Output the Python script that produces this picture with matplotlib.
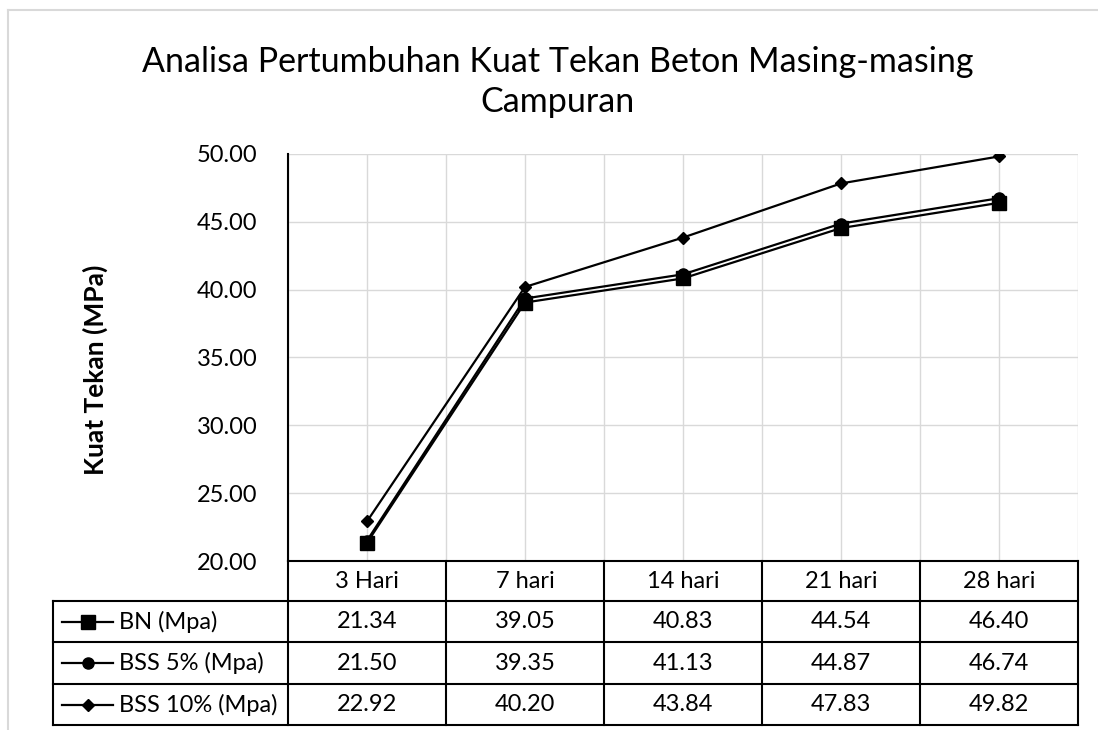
import numpy as np
import matplotlib
matplotlib.use('Agg')
import matplotlib.pyplot as plt
from matplotlib.lines import Line2D

plt.rcParams['font.family'] = ['Lato', 'DejaVu Sans']

# données
hari = ['3 Hari', '7 hari', '14 hari', '21 hari', '28 hari']
series = ['BN (Mpa)', 'BSS 5% (Mpa)', 'BSS 10% (Mpa)']
bn = [21.34, 39.05, 40.83, 44.54, 46.40]
bss5 = [21.50, 39.35, 41.13, 44.87, 46.74]
bss10 = [22.92, 40.20, 43.84, 47.83, 49.82]
valeurs = [bn, bss5, bss10]
marqueurs = ['s', 'o', 'D']
tailles = [10, 8, 6]
titre = ['Analisa Pertumbuhan Kuat Tekan Beton Masing-masing', 'Campuran']

W, H = 1098, 730
fig = plt.figure(figsize=(W / 100, H / 100), dpi=100)


def fx(px):
    return px / W


def fy(py):
    return 1 - py / H


# bords de la zone graphique (pixels)
x0, x1 = 288, 1078
y_top, y_bot = 154, 561
rows = [561, 601, 642, 684, 725]
tab_left = 53
fs = 17

ax = fig.add_axes([fx(x0), fy(y_bot), fx(x1) - fx(x0), fy(y_top) - fy(y_bot)])
x = np.arange(len(hari))
for vals, m, ms in zip(valeurs, marqueurs, tailles):
    ax.plot(x, vals, color='black', lw=1.6, marker=m, ms=ms, zorder=3)

ax.set_xlim(-0.5, len(hari) - 0.5)
ax.set_ylim(20, 50)
ax.set_yticks(np.arange(20, 50.1, 5))
ax.set_yticklabels([f'{v:.2f}' for v in np.arange(20, 50.1, 5)], fontsize=fs)
ax.set_xticks(np.arange(-0.5, len(hari), 0.5))
ax.set_xticklabels([])
ax.tick_params(length=0, pad=22)
ax.grid(True, color='#d9d9d9', lw=1)
ax.set_axisbelow(True)
for s in ['top', 'right', 'bottom']:
    ax.spines[s].set_visible(False)
ax.spines['left'].set_linewidth(1.5)
ax.set_ylabel('Kuat Tekan (MPa)', fontsize=19, fontweight='bold', va='center')
ax.yaxis.set_label_coords((95 - x0) / (x1 - x0), 0.47)

fig.text(fx(558), fy(62), titre[0], ha='center', va='center', fontsize=24.5)
fig.text(fx(558), fy(102), titre[1], ha='center', va='center', fontsize=24.5)

# tableau de données sous le graphique
def ligne(xa, xb, ya, yb, c='black', lw=1.5):
    fig.add_artist(Line2D([fx(xa), fx(xb)], [fy(ya), fy(yb)], color=c, lw=lw))


colw = (x1 - x0) / len(hari)
cols = [x0 + i * colw for i in range(len(hari) + 1)]
ligne(x0, x1, rows[0], rows[0])
for r in rows[1:]:
    ligne(tab_left, x1, r, r)
for c in cols:
    ligne(c, c, rows[0], rows[-1])
ligne(tab_left, tab_left, rows[1], rows[-1])

for i, h in enumerate(hari):
    fig.text(fx(cols[i] + colw / 2), fy((rows[0] + rows[1]) / 2), h,
             ha='center', va='center', fontsize=fs)
for j, (nom, vals, m, ms) in enumerate(zip(series, valeurs, marqueurs, tailles)):
    yc = fy((rows[j + 1] + rows[j + 2]) / 2)
    fig.add_artist(Line2D([fx(62), fx(113)], [yc, yc], color='black', lw=1.6))
    fig.add_artist(Line2D([fx(87.5)], [yc], color='black', marker=m, ms=ms))
    fig.text(fx(119), yc, nom, ha='left', va='center', fontsize=fs)
    for i, v in enumerate(vals):
        fig.text(fx(cols[i] + colw / 2), yc, f'{v:.2f}',
                 ha='center', va='center', fontsize=fs)

# bordure du graphique
ligne(8, W, 10, 10, c='#d9d9d9', lw=1.5)
ligne(8, 8, 10, H, c='#d9d9d9', lw=1.5)

fig.savefig('out.png', dpi=100)
